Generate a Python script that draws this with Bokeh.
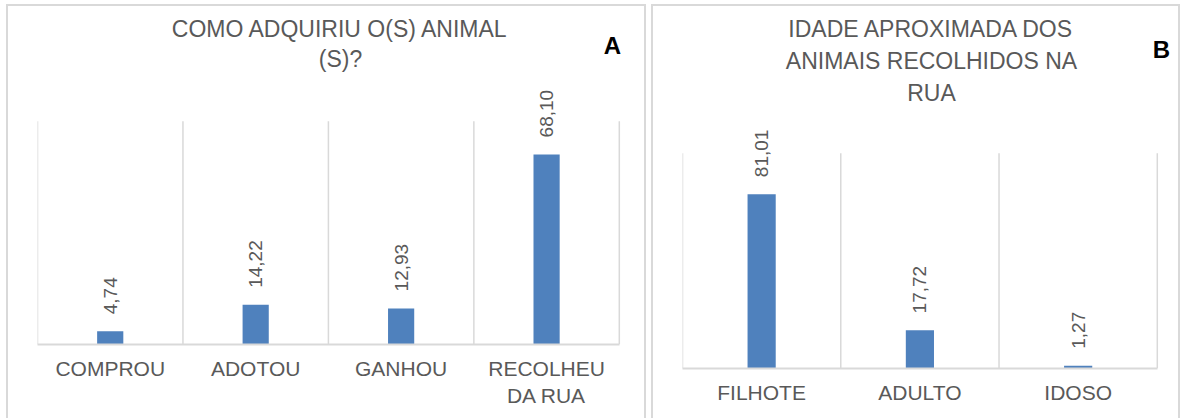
import math
from bokeh.plotting import figure
from bokeh.models import FixedTicker, Label, LabelSet, Range1d, ColumnDataSource
from bokeh.layouts import row, column
from bokeh.embed import file_html
from bokeh.resources import INLINE
from bokeh.core.properties import value

# ---- data ----
cats_a = ["COMPROU", "ADOTOU", "GANHOU", "RECOLHEU\nDA RUA"]
vals_a = [4.74, 14.22, 12.93, 68.10]
title_a = ["COMO ADQUIRIU O(S) ANIMAL", "(S)?"]
letter_a = "A"

cats_b = ["FILHOTE", "ADULTO", "IDOSO"]
vals_b = [81.01, 17.72, 1.27]
title_b = ["IDADE APROXIMADA DOS", "ANIMAIS RECOLHIDOS NA", "RUA"]
letter_b = "B"

FONT = "Liberation Sans"
GRAY = "#595959"
LINE = "#d9d9d9"
BAR = "#4f81bd"


def fmt(v):
    return f"{v:.2f}".replace(".", ",")


def panel(width, height, margin, cats, vals, ymax, borders, grid_top,
          titles, title_x, title_ys, letter, letter_xy, bar_w):
    """borders: (left, right, bottom) of the category area in canvas px;
    grid_top: canvas y (from top) where the value-axis maximum sits."""
    left, right, bottom = borders
    n = len(cats)
    canvas_w = width - 4
    canvas_h = height - 2
    frame_w = canvas_w - left
    frame_h = canvas_h - bottom
    x_end = n * frame_w / (frame_w - right)
    y_end = ymax * frame_h / (frame_h - grid_top)
    p = figure(width=width, height=height, output_backend="svg", title=None,
               toolbar_location=None, x_range=Range1d(0, x_end),
               y_range=Range1d(0, y_end), y_axis_location=None,
               min_border_left=left, min_border_right=0,
               min_border_top=0, min_border_bottom=bottom,
               outline_line_color=None, margin=margin,
               styles={"border-top": f"2px solid {LINE}",
                       "border-left": f"2px solid {LINE}",
                       "border-right": f"2px solid {LINE}"})
    bounds = list(range(n + 1))
    p.segment(x0=bounds, y0=[0] * len(bounds), x1=bounds,
              y1=[ymax] * len(bounds), line_color=LINE, line_width=1.5)
    centers = [i + 0.5 for i in range(n)]
    p.vbar(x=centers, top=vals, width=bar_w, fill_color=BAR, line_color=None)
    src = ColumnDataSource(dict(x=centers, y=vals, t=[fmt(v) for v in vals]))
    p.add_layout(LabelSet(x="x", y="y", text="t", source=src,
                          angle=math.pi / 2, text_align="left",
                          text_baseline="middle", y_offset=17,
                          text_font=value(FONT), text_font_size="19px",
                          text_color=GRAY))

    ax = p.xaxis[0]
    ax.bounds = (0, n)
    ax.ticker = FixedTicker(ticks=centers)
    ax.major_label_overrides = {c: t for c, t in zip(centers, cats)}
    ax.axis_line_color = LINE
    ax.axis_line_width = 2
    ax.major_tick_line_color = None
    ax.minor_tick_line_color = None
    ax.major_label_text_color = GRAY
    ax.major_label_text_font = FONT
    ax.major_label_text_font_size = "21px"
    ax.major_label_standoff = 6
    for g in p.grid:
        g.visible = False

    for t, y in zip(titles, title_ys):
        p.add_layout(Label(x=title_x - left, y=frame_h - y,
                           x_units="screen", y_units="screen", text=t,
                           text_align="center", text_baseline="middle",
                           text_font=FONT, text_font_size="23px",
                           text_color=GRAY))
    p.add_layout(Label(x=letter_xy[0] - left, y=frame_h - letter_xy[1],
                       x_units="screen", y_units="screen", text=letter,
                       text_align="center", text_baseline="middle",
                       text_font=FONT, text_font_size="24px",
                       text_font_style="bold", text_color="black"))
    return p


H = 414
# panel A: element at x=6, y=4 ; canvas origin ~ (8, 6)
pa = panel(640, H, (4, 0, 0, 6), cats_a, vals_a, 80, (29, 29, 76), 114,
           title_a, 332, [20, 50], letter_a, (604, 37), 0.18)
# panel B: element at x=651, y=4 ; canvas origin ~ (653, 6)
pb = panel(529, H, (4, 0, 0, 5), cats_b, vals_b, 100, (29, 25, 52), 146,
           title_b, 278, [20, 52, 84], letter_b, (508, 41), 0.178)

layout = row(column(pa), column(pb))
open("out.html", "w").write(file_html(layout, INLINE))
